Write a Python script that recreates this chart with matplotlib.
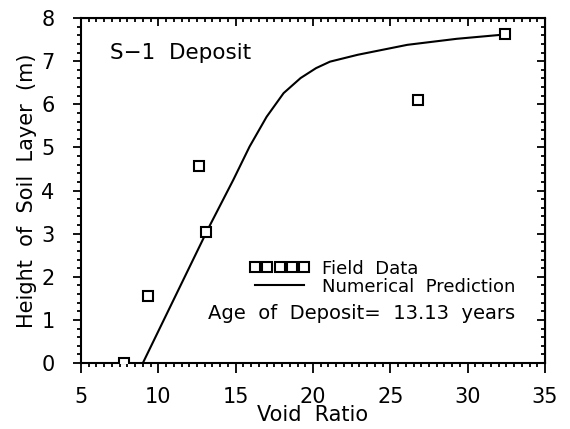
import matplotlib
matplotlib.use("Agg")
import matplotlib.pyplot as plt
from matplotlib.ticker import MultipleLocator

# field measurements (void ratio vs height)
field_e = [7.8, 9.3, 12.6, 13.1, 26.8, 32.4]
field_h = [0.0, 1.55, 4.57, 3.05, 6.10, 7.62]

# numerical prediction curve
pred_e = [9.0, 13.2, 14.85, 15.9, 17.0, 18.1, 19.2, 20.2, 21.1, 22.9, 26.1, 29.3, 32.4]
pred_h = [0.0, 3.1, 4.25, 5.02, 5.71, 6.26, 6.61, 6.84, 6.99, 7.15, 7.38, 7.52, 7.62]

xticks = [5, 10, 15, 20, 25, 30, 35]
yticks = [0, 1, 2, 3, 4, 5, 6, 7, 8]

plt.rcParams['font.family'] = ['DejaVu Sans']

fig = plt.figure(figsize=(5.7, 4.29), dpi=100)
ax = fig.add_axes([0.1421, 0.1538, 0.814, 0.804])

ax.plot(field_e, field_h, linestyle='none', marker='s', markersize=7.5,
        markerfacecolor='white', markeredgecolor='black', markeredgewidth=1.5,
        label='Field  Data', zorder=3)
ax.plot(pred_e, pred_h, color='black', linewidth=1.5, label='Numerical  Prediction')

ax.set_xlim(5, 35)
ax.set_ylim(0, 8)
ax.set_xticks(xticks)
ax.set_yticks(yticks)
ax.xaxis.set_minor_locator(MultipleLocator(0.5))
ax.yaxis.set_minor_locator(MultipleLocator(0.2))

for s in ax.spines.values():
    s.set_linewidth(1.5)

# bottom/left ticks point outward
ax.tick_params(which='both', direction='out', width=1.3, labelsize=15,
               top=False, right=False)
ax.tick_params(axis='x', which='major', length=7, pad=10)
ax.tick_params(axis='y', which='major', length=6, pad=13)
ax.tick_params(which='minor', length=3)

# top/right ticks point inward
top = ax.secondary_xaxis('top')
top.set_xticks(xticks)
top.xaxis.set_minor_locator(MultipleLocator(0.5))
top.tick_params(which='both', direction='in', width=1.3, labeltop=False)
top.tick_params(which='major', length=6)
top.tick_params(which='minor', length=3)
right = ax.secondary_yaxis('right')
right.set_yticks(yticks)
right.yaxis.set_minor_locator(MultipleLocator(0.2))
right.tick_params(which='both', direction='in', width=1.3, labelright=False)
right.tick_params(which='major', length=6)
right.tick_params(which='minor', length=3)

ax.set_xlabel('Void  Ratio', fontsize=15, labelpad=-1)
ax.set_ylabel('Height  of  Soil  Layer  (m)', fontsize=15, labelpad=3)

ax.text(0.0625, 0.899, 'S\u22121  Deposit', transform=ax.transAxes,
        fontsize=15.5, ha='left', va='center')
ax.text(0.935, 0.145, 'Age  of  Deposit=  13.13  years', transform=ax.transAxes,
        fontsize=14, ha='right', va='center')

ax.legend(loc='upper left', bbox_to_anchor=(0.364, 0.30), frameon=False,
          fontsize=13, numpoints=5, handlelength=3.3, handletextpad=0.7,
          labelspacing=0.0, borderpad=0, borderaxespad=0)

fig.savefig('out.png', dpi=100)
